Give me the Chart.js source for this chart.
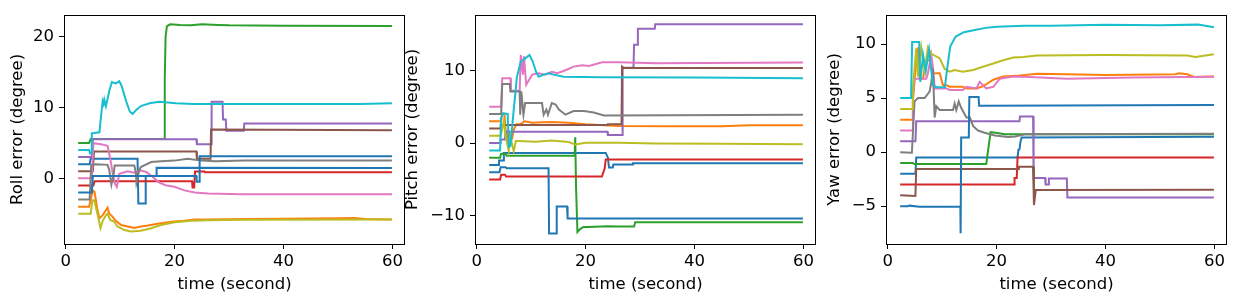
<!DOCTYPE html>
<html>
<head>
<meta charset="utf-8">
<script src="https://cdn.jsdelivr.net/npm/chart.js@4.4.1/dist/chart.umd.min.js"></script>
<style>
  html, body { margin: 0; padding: 0; background: #fff; width: 1240px; height: 305px; overflow: hidden; }
  canvas { position: absolute; top: 0; }
</style>
</head>
<body>
<canvas id="rollChart" width="408" height="305" style="left:0px"></canvas>
<canvas id="pitchChart" width="422" height="305" style="left:395px"></canvas>
<canvas id="yawChart" width="423" height="305" style="left:817px"></canvas>
<script>
// tick labels
const timeTicks = [0, 20, 40, 60];
const rollTicks = [0, 10, 20];
const pitchTicks = [-10, 0, 10];
const yawTicks = [-5, 0, 5, 10];

// tab10 cycle, 11 runs per panel (the 11th wraps back to blue)
const colors = ['#1f77b4', '#ff7f0e', '#2ca02c', '#d62728', '#9467bd', '#8c564b', '#e377c2', '#7f7f7f', '#bcbd22', '#17becf'];

// ---- roll error, [time, degree] ----
const rollBlue = [[2.3,2],[4.4,2],[4.6,2.75],[13.2,2.75],[13.35,-3.55],[14.6,-3.55],[14.7,0.33],[16.6,0.33],[16.7,1.5],[59.9,1.45]];
const rollOrange = [[2.3,-4],[4.3,-4],[4.6,-3],[5.0,-1.7],[5.3,-1.9],[5.8,-4.25],[6.2,-5.65],[6.8,-5.2],[7.4,-4.5],[7.7,-4.15],[8.0,-4.95],[8.6,-5.4],[9.2,-6.0],[10.2,-6.6],[11.4,-6.8],[12.6,-7.0],[13.8,-6.8],[15.1,-6.65],[16.9,-6.4],[18.8,-6.2],[20,-6.1],[21.8,-6.0],[23.7,-5.8],[26.1,-5.8],[32.9,-5.75],[40,-5.7],[50,-5.65],[53,-5.6],[55,-5.75],[59.9,-5.8]];
const rollGreen = [[2.3,5],[4.3,5],[4.6,5.55],[18.1,5.55],[18.2,14],[18.35,20],[18.6,21.5],[19.2,21.75],[21,21.65],[23,21.6],[25,21.75],[28,21.65],[30,21.6],[40,21.55],[59.9,21.5]];
const rollRed = [[2.3,-1],[5.1,-1],[5.3,-0.4],[23.2,-0.4],[23.3,-1.3],[23.6,-1.3],[23.75,0.95],[25.5,0.95],[25.6,0.85],[59.9,0.85]];
const rollPurple = [[2.3,3],[4.8,3],[5.0,5.5],[24.0,5.5],[24.1,4.8],[26.7,4.8],[26.8,10.8],[28.8,10.8],[28.9,8.3],[29.4,8.3],[29.5,6.7],[32.7,6.7],[32.8,7.75],[59.9,7.75]];
const rollBrown = [[2.3,1],[5.0,1],[5.2,3.8],[24.0,3.8],[24.1,2.75],[26.6,2.75],[26.7,6.9],[59.9,6.8]];
const rollPink = [[2.3,0],[4.8,0],[5.1,4.95],[6.5,4.8],[7.7,4.6],[8.3,2.3],[8.6,0.9],[9.06,-0.75],[9.4,-1.2],[9.85,0.65],[11.4,1.0],[12.6,0.8],[13.8,1.1],[14.8,0.9],[16.0,0.2],[17.2,-0.6],[18.5,-1.0],[20,-1.2],[21.8,-1.7],[23.7,-2.0],[26.1,-2.15],[32.3,-2.24],[59.9,-2.24]];
const rollGray = [[2.3,-3],[4.4,-3],[4.7,1.9],[5.5,2.0],[7.7,1.9],[8.0,1.2],[8.4,-0.9],[8.8,0.5],[9.0,1.8],[12.6,1.8],[12.9,0.8],[13.0,-0.6],[13.5,1.1],[13.8,1.6],[15.7,2.3],[17.5,2.4],[20,2.5],[22.4,2.75],[24.9,2.5],[27.4,2.4],[32.9,2.5],[59.9,2.5]];
const rollOlive = [[2.3,-5],[4.6,-5],[4.9,-3.1],[5.25,-3.1],[5.9,-5.2],[6.4,-7.0],[6.8,-6.0],[7.4,-5.2],[7.7,-5.0],[8.2,-5.9],[8.9,-6.1],[9.5,-6.8],[10.8,-7.3],[12.0,-7.5],[13.8,-7.4],[15.7,-7.05],[17.5,-6.6],[20,-6.2],[23.1,-6.0],[26.1,-5.9],[32.9,-5.85],[59.9,-5.8]];
const rollCyan = [[2.3,4],[4.3,4],[4.5,3.5],[4.7,3.6],[4.8,6.35],[6.2,6.5],[6.5,8.8],[6.8,10.9],[6.97,10.5],[7.1,11.1],[7.4,10.2],[8.0,12.3],[8.5,13.6],[9.2,13.4],[9.85,13.7],[10.3,13.0],[11.1,10.9],[11.8,9.4],[12.3,9.1],[13.0,9.7],[13.8,10.2],[15.4,10.6],[17.2,10.8],[20.3,10.6],[23.4,10.5],[35.6,10.5],[54,10.5],[59.9,10.6]];
const rollBlue2 = [[2.3,-2],[4.8,-2],[5.0,0.33],[24.0,0.33],[24.05,-0.5],[24.5,-0.5],[24.6,3.1],[59.9,3.1]];

// ---- pitch error ----
const pitchBlue = [[2.3,-3],[4.0,-3],[4.1,-2.4],[4.9,-2.4],[5.0,-1.35],[23.7,-1.35],[24.1,-2.0],[24.3,-3.35],[25.0,-3.35],[25.1,-2.95],[28.6,-2.95],[28.7,-2.75],[59.9,-2.75]];
const pitchOrange = [[2.3,3],[4.5,3],[4.7,4.1],[5.1,4.0],[5.3,2.0],[5.6,0.5],[5.9,1.5],[6.2,0.5],[6.5,0.6],[6.8,1.8],[7.3,2.6],[8.0,2.6],[8.9,3.0],[10.2,2.8],[12,2.85],[13.8,2.9],[16.9,2.8],[20,2.6],[26.1,2.35],[35,2.3],[45,2.3],[50,2.45],[59.9,2.45]];
const pitchGreen = [[2.3,-2],[4.3,-2],[4.5,-1.45],[5.3,-1.45],[5.5,-1.75],[18.0,-1.75],[18.1,0.8],[18.25,-6],[18.5,-12.2],[19.0,-11.8],[19.6,-11.5],[20.5,-11.5],[24,-11.4],[26,-11.45],[28.9,-11.45],[29.1,-10.85],[59.9,-10.85]];
const pitchRed = [[2.3,-5],[4.3,-5],[4.5,-4.35],[5.2,-4.35],[5.4,-4.6],[23.0,-4.6],[23.5,-3.5],[23.7,-2.25],[59.9,-2.25]];
const pitchPurple = [[2.3,0],[4.3,0],[4.4,0.5],[5.2,0.5],[5.3,1.55],[24.0,1.55],[24.1,1.1],[26.7,1.1],[26.8,10.35],[28.8,10.35],[28.9,13.5],[29.5,13.5],[29.6,15.7],[32.7,15.7],[32.8,16.3],[59.9,16.3]];
const pitchBrown = [[2.3,2],[4.3,2],[4.4,2.5],[24.0,2.5],[24.1,2.6],[26.6,2.6],[26.7,10.5],[27.0,10.3],[59.9,10.3]];
const pitchPink = [[2.3,5],[4.5,5],[4.7,8.9],[6.2,8.9],[6.3,7.2],[7.9,7.2],[8.1,12.1],[8.5,9.4],[8.7,11.9],[9.1,8.0],[10.2,9.4],[11.4,9.6],[12.6,9.4],[13.8,9.8],[14.8,9.6],[16.3,10.0],[17.8,10.5],[19.4,10.7],[20.6,10.6],[23.05,11.1],[26.1,11.1],[32.9,10.95],[59.9,11.05]];
const pitchGray = [[2.3,4],[4.5,4],[4.7,8.1],[6.1,8.1],[6.2,7.1],[7.9,7.1],[8.0,3.9],[8.2,7.1],[8.3,7.1],[8.6,3.9],[8.9,5.5],[12.0,5.5],[12.3,3.9],[12.8,4.6],[13.1,3.9],[13.8,5.5],[14.5,5.3],[15.1,4.6],[16.3,3.9],[17.8,4.4],[19.7,4.4],[21.5,4.2],[23.4,3.8],[59.9,3.9]];
const pitchOlive = [[2.3,1],[4.4,1],[4.7,2.0],[5.0,3.0],[5.3,1.0],[5.9,-1.1],[6.2,0.9],[6.8,-1.1],[7.2,0.3],[7.7,0.3],[10.8,0.2],[13.8,0.35],[16.9,0.15],[18.1,-0.2],[20,0.05],[26.1,0.05],[32.9,-0.05],[45,-0.1],[59.9,-0.15]];
const pitchCyan = [[2.3,-1],[4.3,-1],[4.5,3.5],[4.9,4.1],[5.7,4.0],[5.9,-0.5],[6.2,-0.4],[6.8,4.5],[7.4,9.1],[8.1,11.2],[8.5,11.4],[9.2,11.8],[9.7,12.1],[10.3,11.2],[10.9,9.8],[11.4,9.1],[12.3,9.4],[13.2,9.6],[14.1,9.4],[16,9.1],[23,9.05],[40,9.0],[59.9,8.9]];
const pitchBlue2 = [[2.3,-4],[4.2,-4],[4.4,-3.3],[5.3,-3.3],[5.5,-3.45],[13.2,-3.45],[13.3,-12.4],[14.6,-12.4],[14.7,-8.7],[16.6,-8.7],[16.7,-10.35],[59.9,-10.35]];

// ---- yaw error ----
const yawBlue = [[2.3,-2],[5.1,-2],[5.25,-0.5],[23.85,-0.5],[24.0,0.2],[24.2,0.25],[24.4,1.0],[24.6,1.35],[59.9,1.43]];
const yawOrange = [[2.3,3],[4.5,3],[4.64,4.7],[5.0,7.0],[5.56,9.7],[5.7,7.5],[5.86,6.8],[6.48,6.8],[7.09,8.5],[7.7,8.5],[8.3,7.3],[9.55,7.3],[10.16,6.2],[10.8,6.2],[11.4,6.05],[13.8,6.05],[14.5,5.9],[16.3,5.9],[17.5,6.1],[19.4,6.7],[21.2,7.0],[24.3,7.1],[27.4,7.25],[32.9,7.2],[40,7.15],[52.8,7.2],[53.5,7.3],[55,7.2],[56.2,6.95],[59.9,7.0]];
const yawGreen = [[2.3,-1],[4.6,-1],[4.9,-1.1],[18.1,-1.1],[18.4,0],[18.9,1.85],[19.8,1.8],[21.5,1.65],[59.9,1.65]];
const yawRed = [[2.3,-3],[23.2,-3],[23.3,-2.4],[23.7,-2.4],[23.85,-0.5],[59.9,-0.5]];
const yawPurple = [[2.3,1],[5.1,1],[5.25,2.87],[24.2,2.87],[24.3,3.3],[26.7,3.3],[26.8,-2.4],[28.9,-2.4],[29.0,-3.0],[29.5,-3.0],[29.6,-2.45],[32.9,-2.45],[33.0,-4.2],[59.9,-4.2]];
const yawBrown = [[2.3,-4],[5.1,-4.05],[5.25,-1.55],[24.0,-1.55],[24.1,-1.35],[26.7,-1.35],[26.86,-4.9],[27.2,-3.5],[59.9,-3.48]];
const yawPink = [[2.3,2],[4.5,2],[4.64,5.15],[4.94,6.8],[7.09,6.8],[7.4,7.3],[8.0,9.0],[8.4,7.5],[8.63,5.9],[10.8,5.9],[11.4,5.75],[13.8,5.75],[14.5,6.05],[16.3,5.9],[16.9,6.5],[18.1,5.9],[19.4,6.05],[20.6,6.8],[23.05,7.0],[26.1,6.95],[32.9,6.8],[45,6.9],[59.9,6.98]];
const yawGray = [[2.3,0],[4.45,-0.05],[4.94,4.7],[5.56,5.0],[6.8,5.0],[7.7,5.6],[8.0,6.4],[8.3,7.75],[8.63,3.2],[8.93,4.25],[9.55,3.9],[12.0,3.9],[12.3,4.5],[12.6,3.9],[13.05,4.7],[13.5,4.1],[14.46,3.2],[15.1,3.2],[15.7,2.4],[16.6,2.0],[17.8,1.8],[19.7,1.55],[22.1,1.4],[23.4,1.45],[25.2,1.65],[59.9,1.7]];
const yawOlive = [[2.3,4],[4.5,4],[4.64,5.9],[5.25,9.6],[5.56,7.0],[6.17,9.7],[6.78,7.6],[7.4,9.7],[8.0,9.1],[9.55,8.7],[10.47,7.7],[11.4,7.45],[12.3,7.6],[13.8,7.45],[15.7,7.6],[17.5,7.9],[19.4,8.2],[21.2,8.5],[23.05,8.75],[24.9,8.8],[27.4,8.95],[40,9.0],[55,8.95],[56.5,8.8],[59.9,9.05]];
const yawCyan = [[2.3,5],[4.3,5],[4.5,10.2],[5.8,10.2],[6.0,6.5],[6.5,9.0],[7.0,7.5],[7.6,9.5],[8.0,7.6],[8.3,6.2],[9.0,6.0],[10.5,6.0],[11.0,8.0],[11.5,9.8],[12.5,10.7],[14,11.1],[16,11.3],[18,11.5],[20,11.6],[25,11.7],[30,11.7],[40,11.8],[50,11.75],[57,11.8],[59.9,11.55]];
const yawBlue2 = [[2.3,-5],[3.7,-5],[4.0,-4.95],[5.86,-5.05],[13.35,-5.05],[13.4,-7.5],[13.5,1.35],[14.9,1.35],[15.0,5.1],[16.7,5.1],[16.8,4.3],[59.9,4.36]];

const rollSeries = [rollBlue, rollOrange, rollGreen, rollRed, rollPurple, rollBrown, rollPink, rollGray, rollOlive, rollCyan, rollBlue2];
const pitchSeries = [pitchBlue, pitchOrange, pitchGreen, pitchRed, pitchPurple, pitchBrown, pitchPink, pitchGray, pitchOlive, pitchCyan, pitchBlue2];
const yawSeries = [yawBlue, yawOrange, yawGreen, yawRed, yawPurple, yawBrown, yawPink, yawGray, yawOlive, yawCyan, yawBlue2];

const font = { family: 'DejaVu Sans', size: 16.5 };
const fmt = (v) => (v < 0 ? '\u2212' + Math.abs(v) : String(v));

// matplotlib-like box round the plot area
const framePlugin = {
  id: 'framePlugin',
  afterDraw(chart) {
    const { ctx, chartArea: a } = chart;
    ctx.save();
    ctx.strokeStyle = '#000';
    ctx.lineWidth = 1;
    ctx.strokeRect(Math.round(a.left) + 0.5, Math.round(a.top) + 0.5, Math.round(a.right - a.left) - 1, Math.round(a.bottom - a.top));
    ctx.restore();
  }
};

function makePanel(id, series, yMin, yMax, yTicks, yTitle, axisWidth, padRight) {
  return new Chart(document.getElementById(id), {
    type: 'line',
    data: {
      datasets: series.map((s, i) => ({
        data: s.map(([x, y]) => ({ x, y })),
        borderColor: colors[i % colors.length],
        borderWidth: 2,
        pointRadius: 0,
        tension: 0,
        fill: false,
        order: series.length - i
      }))
    },
    options: {
      responsive: false,
      animation: false,
      events: [],
      layout: { padding: { top: 13, right: padRight, left: 0, bottom: 0 } },
      plugins: { legend: { display: false }, tooltip: { enabled: false } },
      scales: {
        x: {
          type: 'linear', min: -0.3, max: 62.3,
          afterBuildTicks: (ax) => { ax.ticks = timeTicks.map(v => ({ value: v })); },
          afterFit: (ax) => { ax.height = 61; },
          border: { display: false },
          grid: { drawOnChartArea: false, drawTicks: true, tickLength: 5, tickColor: '#000', color: '#000' },
          ticks: { color: '#000', font, padding: 3, maxRotation: 0, autoSkip: false, callback: fmt },
          title: { display: true, text: 'time (second)', color: '#000', font, padding: { top: 0, bottom: 10 } }
        },
        y: {
          type: 'linear', min: yMin, max: yMax,
          afterBuildTicks: (ax) => { ax.ticks = yTicks.map(v => ({ value: v })); },
          afterFit: (ax) => { ax.width = axisWidth; },
          border: { display: false },
          grid: { drawOnChartArea: false, drawTicks: true, tickLength: 5, tickColor: '#000', color: '#000' },
          ticks: { color: '#000', font, padding: 5, autoSkip: false, callback: fmt },
          title: { display: true, text: yTitle, color: '#000', font, padding: { top: 8, bottom: 0 } }
        }
      }
    },
    plugins: [framePlugin]
  });
}

makePanel('rollChart', rollSeries, -9.27, 23.07, rollTicks, 'Roll error (degree)', 64, 3);
makePanel('pitchChart', pitchSeries, -13.85, 17.6, pitchTicks, 'Pitch error (degree)', 80, 1);
makePanel('yawChart', yawSeries, -8.5, 12.7, yawTicks, 'Yaw error (degree)', 69, 13);
</script>
</body>
</html>
